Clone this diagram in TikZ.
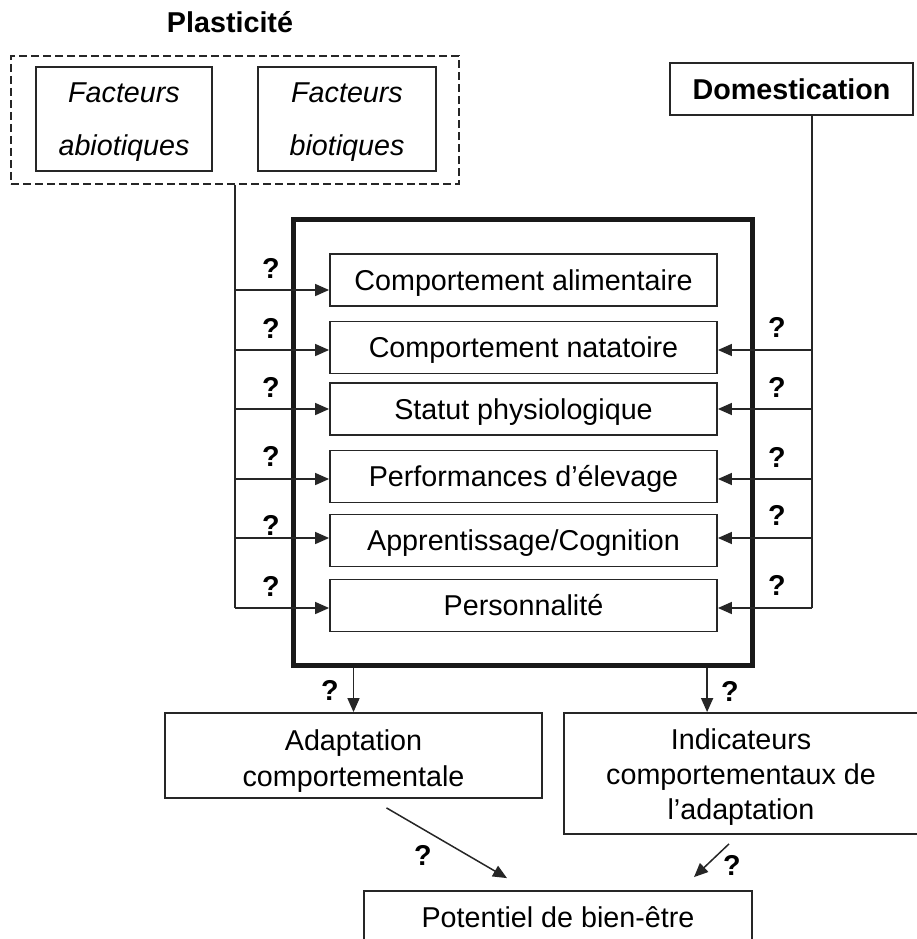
\documentclass[tikz,border=0pt]{standalone}
\usepackage{fontspec}
\setmainfont{Liberation Sans}
\usetikzlibrary{arrows.meta,calc}

\tikzset{
  boite/.style={draw=black!85, line width=1.8pt, inner sep=0pt, align=center, font=\fontsize{28.7pt}{36pt}\selectfont},
  ligne/.style={boite, text height=20.5pt, text depth=0pt},
  qm/.style={inner sep=0pt, text height=20.5pt, text depth=0pt, font=\fontsize{28.7pt}{34pt}\selectfont\bfseries},
  trait/.style={draw=black!85, line width=1.5pt},
  fleche/.style={trait, -{Triangle[length=14pt,width=12pt]}}
}

\begin{document}
\begin{tikzpicture}[x=1pt,y=1pt,yscale=-1]
\useasboundingbox (0,0) rectangle (916,939); %same frame as the figure

%Shape: Rectangle, dashed group
\node [boite, dash pattern=on 8pt off 4pt, line width=1.2pt, minimum width=448pt, minimum height=128pt] (plast) at (235,120) {};
%Shape: Rectangle
\node [boite, minimum width=176pt, minimum height=104pt, text height=72pt, text depth=0pt, font=\fontsize{28.7pt}{53pt}\selectfont\itshape] (abio) at (124,119) {Facteurs\\abiotiques};
%Shape: Rectangle
\node [boite, minimum width=178pt, minimum height=104pt, text height=72pt, text depth=0pt, font=\fontsize{28.7pt}{53pt}\selectfont\itshape] (bio) at (347,119) {Facteurs\\biotiques};
%Shape: Rectangle
\node [ligne, minimum width=243pt, minimum height=52pt, font=\fontsize{28.7pt}{34pt}\selectfont\bfseries] (dom) at (791.5,89) {Domestication};

%Shape: Rectangle, thick frame
\node [draw=black!90, line width=5pt, minimum width=459pt, minimum height=446pt] (bloc) at (522.5,442) {};
%Shape: Rectangle
\node [ligne, minimum width=387pt, minimum height=52pt] (comp1) at (523.5,280) {Comportement alimentaire};
%Shape: Rectangle
\node [ligne, minimum width=387pt, minimum height=52pt] (comp2) at (523.5,347.5) {Comportement natatoire};
%Shape: Rectangle
\node [ligne, minimum width=387pt, minimum height=52pt] (comp3) at (523.5,409) {Statut physiologique};
%Shape: Rectangle
\node [ligne, minimum width=387pt, minimum height=52pt] (comp4) at (523.5,476.5) {Performances d’élevage};
%Shape: Rectangle
\node [ligne, minimum width=387pt, minimum height=52pt] (comp5) at (523.5,540.5) {Apprentissage/Cognition};
%Shape: Rectangle
\node [ligne, minimum width=387pt, minimum height=52pt] (comp6) at (523.5,605.5) {Personnalité};

%Shape: Rectangle
\node [boite, minimum width=377pt, minimum height=85pt, text height=62.4pt, text depth=0pt] (adapt) at (353.5,755.5) {Adaptation\\comportementale};
%Shape: Rectangle
\node [boite, minimum width=354pt, minimum height=121pt, text height=91.6pt, text depth=0pt, font=\fontsize{28.7pt}{34.7pt}\selectfont] (indic) at (741,773.5) {Indicateurs\\comportementaux de\\l’adaptation};
%Shape: Rectangle
\node [ligne, minimum width=388pt, minimum height=52pt] (pot) at (558,917) {Potentiel de bien-être};

% Text Node
\node [qm, font=\fontsize{28.7pt}{34pt}\selectfont\bfseries] (titre) at (230,22.5) {Plasticité};

%Straight Lines, left side
\coordinate (g1) at (235,290);
\coordinate (g2) at (235,350);
\coordinate (g3) at (235,409);
\coordinate (g4) at (235,479);
\coordinate (g5) at (235,538);
\coordinate (g6) at (235,608);
\draw [trait] (plast.south) -- (g6);
\draw [fleche] (g1) -- (g1 -| comp1.west);
\draw [fleche] (g2) -- (g2 -| comp2.west);
\draw [fleche] (g3) -- (g3 -| comp3.west);
\draw [fleche] (g4) -- (g4 -| comp4.west);
\draw [fleche] (g5) -- (g5 -| comp5.west);
\draw [fleche] (g6) -- (g6 -| comp6.west);

%Straight Lines, right side
\coordinate (d2) at (812,350);
\coordinate (d3) at (812,409);
\coordinate (d4) at (812,479);
\coordinate (d5) at (812,538);
\coordinate (d6) at (812,608);
\draw [trait] (dom.south -| d2) -- (d6);
\draw [fleche] (d2) -- (d2 -| comp2.east);
\draw [fleche] (d3) -- (d3 -| comp3.east);
\draw [fleche] (d4) -- (d4 -| comp4.east);
\draw [fleche] (d5) -- (d5 -| comp5.east);
\draw [fleche] (d6) -- (d6 -| comp6.east);

%Straight Lines, bottom
\coordinate (ind) at ($(indic.north west)+(144,0)$);
\draw [fleche] (adapt.north |- bloc.south) -- (adapt.north);
\draw [fleche] (ind |- bloc.south) -- (ind);
\draw [fleche] ($(adapt.south)+(33,9)$) -- ($(pot.north)+(-51,-12)$);
\draw [fleche] ($(indic.south)+(-12,9)$) -- ($(pot.north)+(136,-13)$);

% Text Node
\node [qm] (qg1) at (271,268) {?};
\node [qm] (qg2) at (271,328) {?};
\node [qm] (qg3) at (271,387) {?};
\node [qm] (qg4) at (271,456) {?};
\node [qm] (qg5) at (271,525) {?};
\node [qm] (qg6) at (271,586) {?};
% Text Node
\node [qm] (qd2) at (777,327) {?};
\node [qm] (qd3) at (777,387) {?};
\node [qm] (qd4) at (777,457) {?};
\node [qm] (qd5) at (777,515) {?};
\node [qm] (qd6) at (777,585) {?};
% Text Node
\node [qm] (qb1) at (330,690) {?};
\node [qm] (qb2) at (730,691) {?};
\node [qm] (qb3) at (423,855) {?};
\node [qm] (qb4) at (732,865) {?};

\end{tikzpicture}
\end{document}
